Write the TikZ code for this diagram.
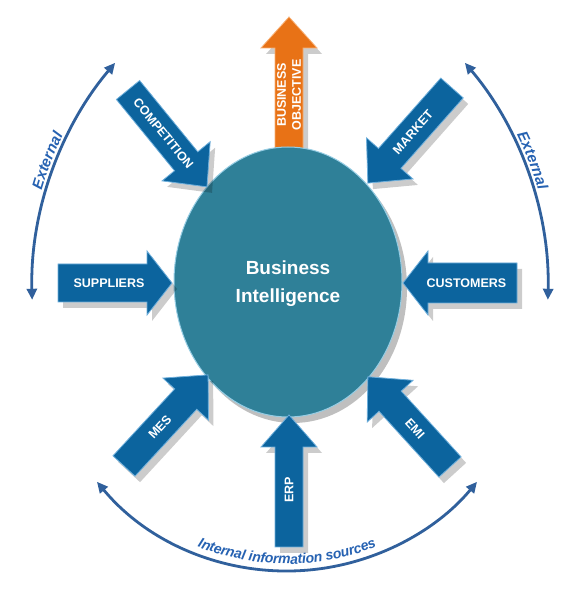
\documentclass[tikz,border=0pt]{standalone}
\usepackage{fontspec}
\setmainfont{Liberation Sans}
\usetikzlibrary{arrows.meta,decorations.text,shapes.geometric}
\definecolor{bblue}{RGB}{12,100,158}
\definecolor{bedge}{RGB}{110,175,220}
\definecolor{bicol}{RGB}{47,128,152}
\definecolor{biedge}{RGB}{150,205,228}
\definecolor{orng}{RGB}{232,114,22}
\definecolor{oedge}{RGB}{248,175,115}
\definecolor{arcblue}{RGB}{48,96,156}
\definecolor{txtblue}{RGB}{38,98,178}
\newcommand{\extfont}{\fontsize{15}{15}\selectfont\bfseries\itshape}
\newcommand{\intfont}{\fontsize{14}{14}\selectfont\bfseries\itshape}
% #1 start, #2 angle, #3 length, #4 body half width, #5 head half width, #6 head length, #7 style, #8 label code
\newcommand{\blockarr}[8]{%
  \begin{scope}[shift={#1}]
    \begin{scope}[xshift=5pt,yshift=-6pt,rotate=#2]
      \fill[black,opacity=.2] (0,-#4) -- ({#3-#6},-#4) -- ({#3-#6},-#5) -- (#3,0)
        -- ({#3-#6},#5) -- ({#3-#6},#4) -- (0,#4) -- cycle;
    \end{scope}
    \begin{scope}[rotate=#2]
      \path[#7] (0,-#4) -- ({#3-#6},-#4) -- ({#3-#6},-#5) -- (#3,0)
        -- ({#3-#6},#5) -- ({#3-#6},#4) -- (0,#4) -- cycle;
      #8
    \end{scope}
  \end{scope}}
\tikzset{
  barrow/.style={fill=bblue, draw=bedge, line width=0.8pt, line join=miter},
  orarrow/.style={fill=orng, draw=oedge, line width=0.8pt, line join=miter},
  lbl/.style={text=white, font=\fontsize{12.5}{15}\selectfont\bfseries, inner sep=0pt},
  bitext/.style={text=white, font=\fontsize{19}{19}\selectfont\bfseries, inner sep=0pt, anchor=base},
  arcline/.style={draw=arcblue, line width=2.8pt,
    {Triangle[length=11pt,width=10pt]}-{Triangle[length=11pt,width=10pt]}},
}
\begin{document}
\begin{tikzpicture}[x=1pt,y=1pt]
\useasboundingbox (0,0) rectangle (570,592);
\fill[white] (0,0) rectangle (570,592);

% orange arrow (behind ellipse)
\blockarr{(289,392)}{90}{183}{14}{28}{31}{orarrow}{\node[lbl,rotate=90,align=center] (bo) at (105,0) {BUSINESS\\OBJECTIVE};}

% ellipse
\fill[black,opacity=.25] (293,304) ellipse[x radius=114,y radius=135];
\node[ellipse, fill=bicol, draw=biedge, line width=1pt, minimum width=228pt, minimum height=270pt, inner sep=0pt] (bi) at (288,310) {};
\node[bitext] (bi1) at (288,317) {Business};
\node[bitext] (bi2) at (288,289) {Intelligence};

% blue arrows
\blockarr{(58,309)}{0}{114}{19}{32}{25}{barrow}{\node[lbl] (sup) at (51,0) {SUPPLIERS};}
\blockarr{(517,309)}{180}{114}{20}{32}{25}{barrow}{\node[lbl] (cus) at (50.5,0) {CUSTOMERS};}
\blockarr{(289,45)}{90}{132}{14}{28}{32}{barrow}{\node[lbl,rotate=90] (erp) at (57,0) {ERP};}
\blockarr{(128,502)}{-50.8}{125}{15}{31}{33}{barrow}{\node[lbl,rotate=-50.8] (comp) at (56,0) {COMPETITION};}
\blockarr{(452,504)}{-131.5}{127}{15}{31}{33}{barrow}{\node[lbl,rotate=48.5] (mkt) at (59,0) {MARKET};}
\blockarr{(124,126)}{47.3}{124}{15}{31}{33}{barrow}{\node[lbl,rotate=47.3] (mes) at (53,0) {MES};}
\blockarr{(450,125)}{132.3}{122}{15}{31}{33}{barrow}{\node[lbl,rotate=-47.7] (emi) at (52,0) {EMI};}

% external arcs
\draw[arcline] ([shift={(384,302)}]181.6:352) arc[start angle=181.6, end angle=139.8, radius=352];
\path[decorate, decoration={text along path, text={|\extfont|External}, text align=center, raise=4.5pt, text color=txtblue}]
  ([shift={(384,302)}]181:352) arc[start angle=181, end angle=137, radius=352];
\draw[arcline] ([shift={(196,302)}]-1.6:352) arc[start angle=-1.6, end angle=40.2, radius=352];
\path[decorate, decoration={text along path, text={|\extfont|External}, text align=center, raise=4.5pt, text color=txtblue}]
  ([shift={(196,302)}]43:352) arc[start angle=43, end angle=-1, radius=352];

% internal arc
\draw[arcline] ([shift={(287,268)}]219.7:247) arc[start angle=219.7, end angle=320.3, radius=247];
\path[decorate, decoration={text along path, text={|\intfont|Internal information sources}, text align=center, raise=7pt, text color=txtblue}]
  ([shift={(287,268)}]215:247) arc[start angle=215, end angle=325, radius=247];
\end{tikzpicture}
\end{document}
